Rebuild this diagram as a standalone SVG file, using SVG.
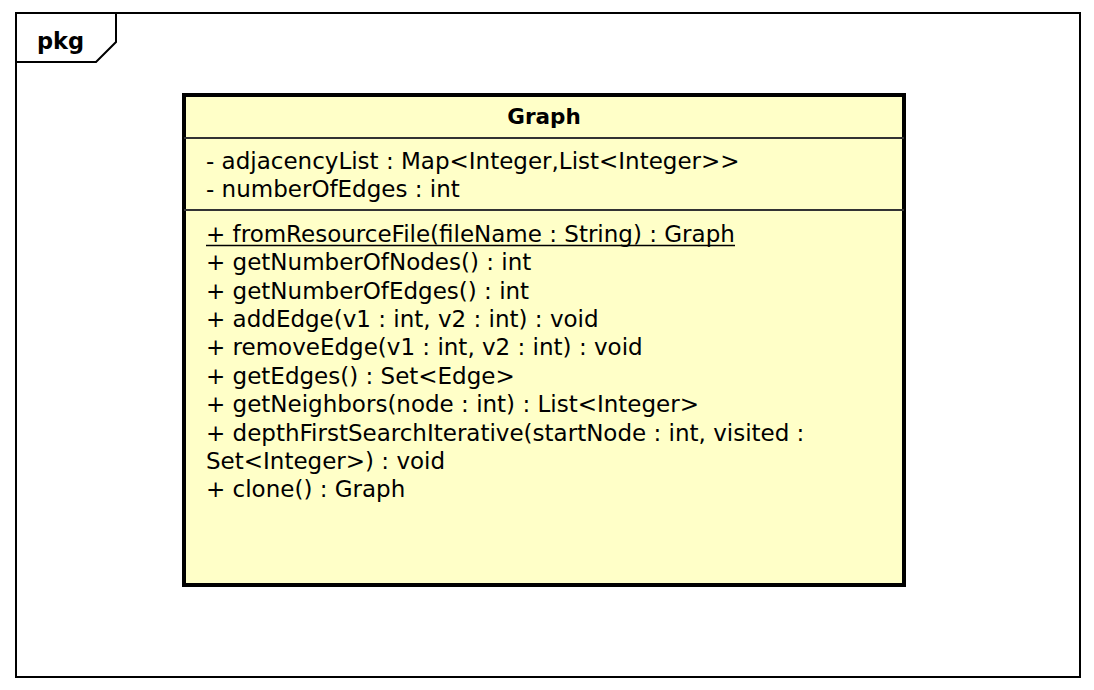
<svg xmlns="http://www.w3.org/2000/svg" width="1094" height="690" viewBox="0 0 1094 690">
<style>
text{font-family:"DejaVu Sans","Liberation Sans",sans-serif;fill:#000}
.t{font-size:23px}
.b{font-weight:bold;font-size:21.5px}
</style>
<rect width="1094" height="690" fill="#fff"/>
<g id="pkg">
<rect x="16" y="13" width="1064" height="664" fill="none" stroke="#000" stroke-width="2"/>
<path d="M16 62 H96 L116 42 V13" fill="none" stroke="#000" stroke-width="2"/>
<text x="37" y="49" class="b" style="font-size:22.5px">pkg</text>
</g>
<g id="Graph">
<rect x="184" y="95" width="720" height="490" fill="#FFFFC8" stroke="#000" stroke-width="4"/>
<line x1="184" y1="138" x2="904" y2="138" stroke="#333" stroke-width="2"/>
<line x1="184" y1="210" x2="904" y2="210" stroke="#333" stroke-width="2"/>
<text x="544" y="124" text-anchor="middle" class="b">Graph</text>
<text class="t" x="206">
<tspan x="206" y="169">- adjacencyList : Map&lt;Integer,List&lt;Integer&gt;&gt;</tspan>
<tspan x="206" y="197">- numberOfEdges : int</tspan>
</text>
<text class="t" x="206" y="242">+ fromResourceFile(fileName : String) : Graph</text>
<line x1="206" y1="245.5" x2="735" y2="245.5" stroke="#000" stroke-width="1.5"/>
<text class="t">
<tspan x="206" y="270">+ getNumberOfNodes() : int</tspan>
<tspan x="206" y="299">+ getNumberOfEdges() : int</tspan>
<tspan x="206" y="327">+ addEdge(v1 : int, v2 : int) : void</tspan>
<tspan x="206" y="355">+ removeEdge(v1 : int, v2 : int) : void</tspan>
<tspan x="206" y="384">+ getEdges() : Set&lt;Edge&gt;</tspan>
<tspan x="206" y="412">+ getNeighbors(node : int) : List&lt;Integer&gt;</tspan>
<tspan x="206" y="441">+ depthFirstSearchIterative(startNode : int, visited :</tspan>
<tspan x="206" y="469">Set&lt;Integer&gt;) : void</tspan>
<tspan x="206" y="497">+ clone() : Graph</tspan>
</text>
</g>
<g id="connectors"/>
</svg>
